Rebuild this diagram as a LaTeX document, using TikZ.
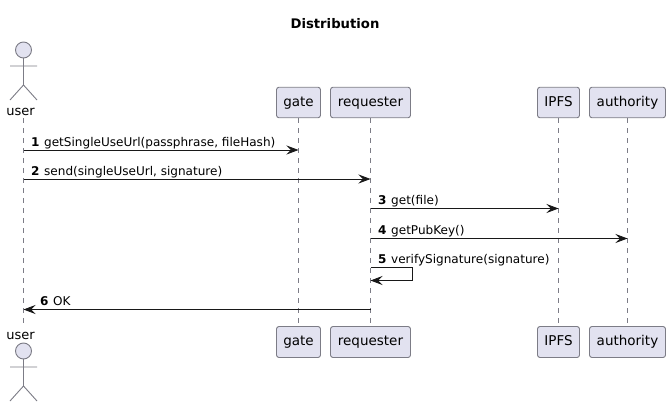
\documentclass[tikz,border=0pt]{standalone}
\usepackage{fontspec}
\setmainfont{DejaVu Sans}
\usetikzlibrary{arrows.meta}
\definecolor{partfill}{HTML}{E2E2F0}
\definecolor{partline}{HTML}{7C7C86}
\definecolor{msgline}{HTML}{181818}
\tikzset{
  x=1pt,y=-1pt,
  participant/.style={draw=partline,fill=partfill,rounded corners=2.5pt,line width=0.9pt,inner sep=0pt,minimum height=30.5pt,font=\fontsize{13.5}{16}\selectfont,text=black,text height=10pt,text depth=3pt},
  actorpart/.style={draw=partline,fill=partfill,line width=0.9pt},
  actorline/.style={draw=partline,line width=0.9pt},
  lifeline/.style={draw=partline,line width=0.7pt,dash pattern=on 5pt off 5pt},
  msg/.style={draw=msgline,line width=0.8pt,-{Stealth[length=12pt,width=9pt,inset=4.5pt]}},
  msglabel/.style={anchor=base west,inner sep=0pt,font=\fontsize{12.05}{14}\selectfont,text=black},
  actorlabel/.style={anchor=base,inner sep=0pt,font=\fontsize{13}{16}\selectfont,text=black},
}
\newcommand{\stickman}[2]{%
  \draw[actorpart] (#1,#2) circle[radius=8];
  \draw[actorline] (#1,#2+8)--(#1,#2+35) (#1-13.5,#2+16)--(#1+13.5,#2+16) (#1-13.5,#2+50)--(#1,#2+35)--(#1+13.5,#2+50);
}
\begin{document}
\begin{tikzpicture}
\useasboundingbox (0,0) rectangle (670,407);
\node[anchor=base,inner sep=0pt,font=\bfseries\fontsize{13.2}{15}\selectfont] (title) at (335,28) {Distribution};

% actors
\stickman{23.5}{50}
\stickman{23.5}{351}
\node[actorlabel] (userT) at (20.5,115.5) {user};
\node[actorlabel] (userB) at (20.5,339.5) {user};
\coordinate (uT) at (23.5,118);
\coordinate (uB) at (23.5,325);

% participants
\foreach \n/\t/\xa/\w in {gate/gate/298.5/44,req/requester/370.5/80,ipfs/IPFS/558.5/42,auth/authority/627.5/76}{
  \node[participant,minimum width=\w pt] (\n T) at (\xa,102.5) {\t};
  \node[participant,minimum width=\w pt,minimum height=31pt] (\n B) at (\xa,342) {\t};
}

% lifelines
\draw[lifeline] (uT)--(uB);
\foreach \n in {gate,req,ipfs,auth}{\draw[lifeline] (\n T.south)--(\n B.north);}

% messages
\coordinate (m1a) at (uT|-0,150);
\path (gateT.south|-0,150) coordinate (m1b);
\path (uT|-0,179) coordinate (m2a);
\path (reqT.south|-0,179) coordinate (m2b);
\path (reqT.south|-0,208.5) coordinate (m3a);
\path (ipfsT.south|-0,208.5) coordinate (m3b);
\path (reqT.south|-0,238.5) coordinate (m4a);
\path (authT.south|-0,238.5) coordinate (m4b);
\path (reqT.south|-0,267.5) coordinate (m5a);
\path (reqT.south|-0,280.5) coordinate (m5b);
\path (412.5,267.5) coordinate (m5c);
\path (412.5,280.5) coordinate (m5d);
\path (reqT.south|-0,309.5) coordinate (m6a);
\path (uT|-0,309.5) coordinate (m6b);

\draw[msg] (m1a)--(m1b);
\draw[msg] (m2a)--(m2b);
\draw[msg] (m3a)--(m3b);
\draw[msg] (m4a)--(m4b);
\draw[msg] (m5a)--(m5c)--(m5d)--(m5b);
\draw[msg] (m6a)--(m6b);

\node[msglabel] (l1) at (31,146) {\textbf{1}\hspace{4.6pt}getSingleUseUrl(passphrase, fileHash)};
\node[msglabel] (l2) at (31,175) {\textbf{2}\hspace{4.6pt}send(singleUseUrl, signature)};
\node[msglabel] (l3) at (378,204.5) {\textbf{3}\hspace{4.6pt}get(file)};
\node[msglabel] (l4) at (378,234.5) {\textbf{4}\hspace{4.6pt}getPubKey()};
\node[msglabel] (l5) at (378,263.5) {\textbf{5}\hspace{4.6pt}verifySignature(signature)};
\node[msglabel] (l6) at (40,305.5) {\textbf{6}\hspace{4.6pt}OK};
\end{tikzpicture}
\end{document}
